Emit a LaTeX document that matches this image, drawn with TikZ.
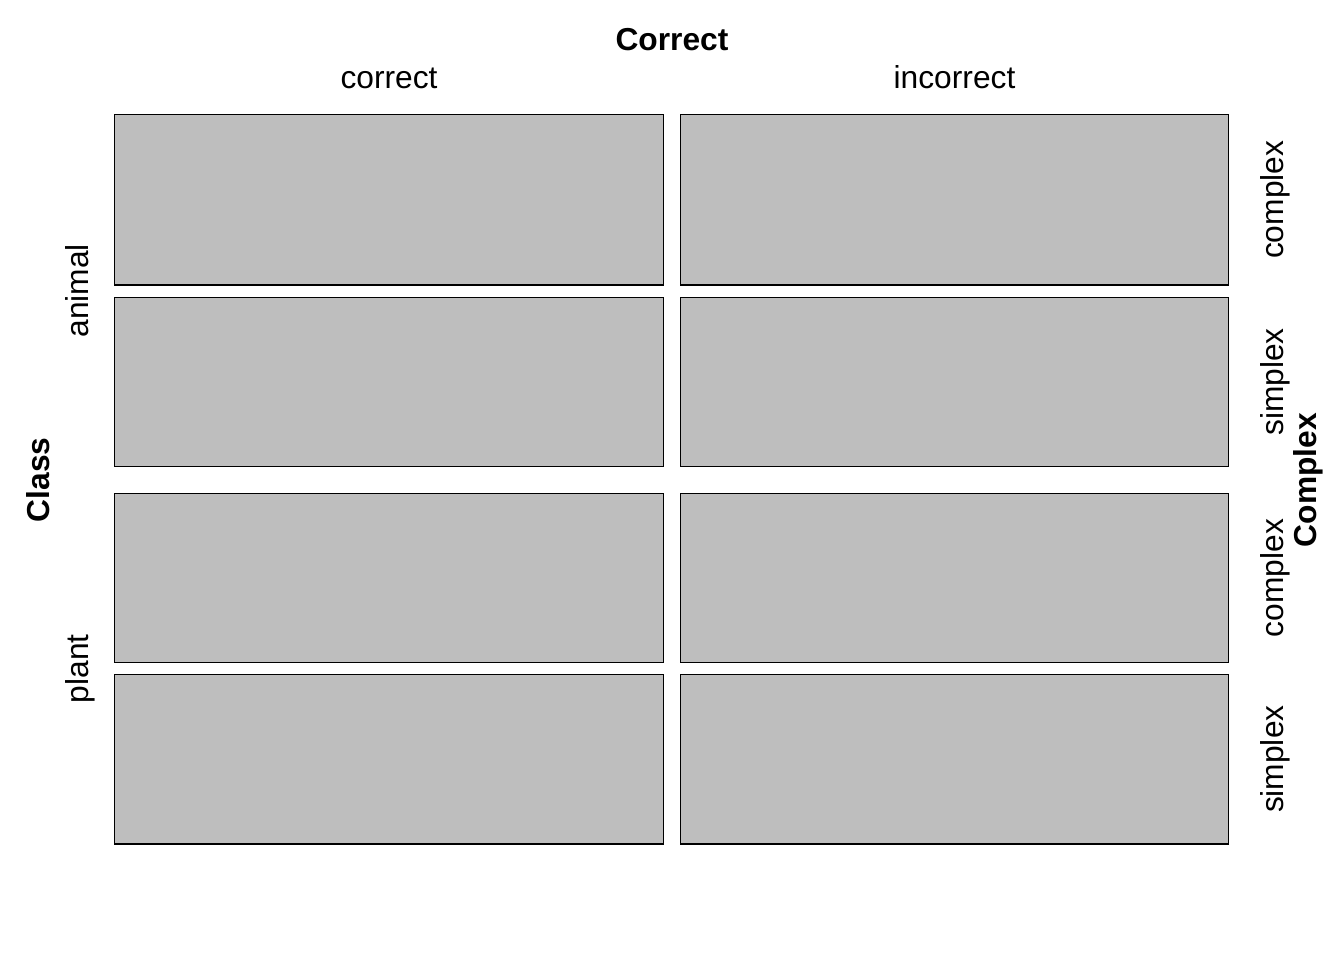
\documentclass[tikz,border=0pt]{standalone}
\usepackage{fontspec}
\setmainfont{Liberation Sans}
\definecolor{cellgray}{HTML}{BEBEBE}
\begin{document}
\begin{tikzpicture}[x=0.75pt,y=-0.75pt,
  cell/.style={draw=black,fill=cellgray,line width=1pt},
  lab/.style={font=\fontsize{23.8}{28}\selectfont,anchor=base,inner sep=0pt},
  blab/.style={font=\fontsize{23.8}{28}\selectfont\bfseries,anchor=base,inner sep=0pt}]
\useasboundingbox (0,0) rectangle (1344,960);
% cells
\draw[cell] (114.8,114.8) rectangle (663.2,285);
\draw[cell] (680.6,114.8) rectangle (1228.4,285);
\draw[cell] (114.8,297.2) rectangle (663.2,466.6);
\draw[cell] (680.6,297.2) rectangle (1228.4,466.6);
\draw[cell] (114.8,493.4) rectangle (663.2,662.6);
\draw[cell] (680.6,493.4) rectangle (1228.4,662.6);
\draw[cell] (114.8,674.4) rectangle (663.2,844);
\draw[cell] (680.6,674.4) rectangle (1228.4,844);
% top labels
\node[blab] (tCorrect) at (672,50) {Correct};
\node[lab] (tc) at (389,88) {correct};
\node[lab] (ti) at (954.5,88) {incorrect};
% left labels
\node[blab,rotate=90] (lClass) at (49,480) {Class};
\node[lab,rotate=90] (lanimal) at (88,290.7) {animal};
\node[lab,rotate=90] (lplant) at (88,668.7) {plant};
% right labels
\node[lab,rotate=90] (r1) at (1283,199.8) {complex};
\node[lab,rotate=90] (r2) at (1283,382) {simplex};
\node[lab,rotate=90] (r3) at (1283,578.1) {complex};
\node[lab,rotate=90] (r4) at (1283,759.2) {simplex};
\node[blab,rotate=90] (rComplex) at (1316,480) {Complex};
\end{tikzpicture}
\end{document}
